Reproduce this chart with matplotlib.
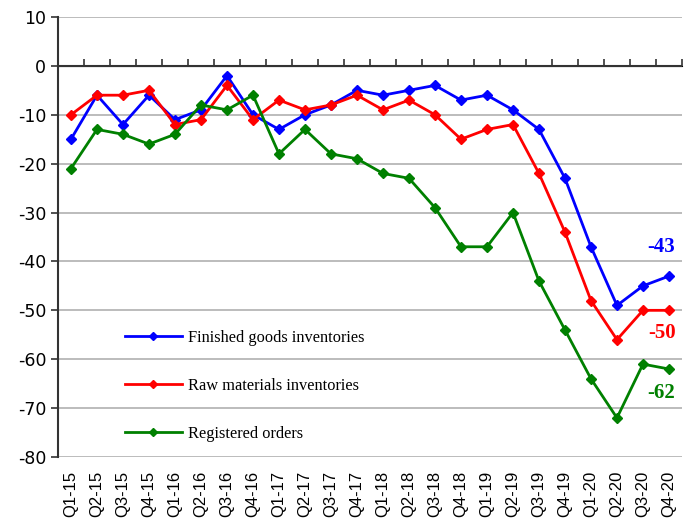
import numpy as np
import matplotlib.pyplot as plt

plt.rcParams['axes.unicode_minus'] = False

quarters = ['Q%d-%d' % (q, y) for y in range(15, 21) for q in range(1, 5)]
finished = [-15, -6, -12, -6, -11, -9, -2, -10, -13, -10, -8, -5,
            -6, -5, -4, -7, -6, -9, -13, -23, -37, -49, -45, -43]
raw = [-10, -6, -6, -5, -12, -11, -4, -11, -7, -9, -8, -6,
       -9, -7, -10, -15, -13, -12, -22, -34, -48, -56, -50, -50]
orders = [-21, -13, -14, -16, -14, -8, -9, -6, -18, -13, -18, -19,
          -22, -23, -29, -37, -37, -30, -44, -54, -64, -72, -61, -62]

names = ['Finished goods inventories', 'Raw materials inventories', 'Registered orders']
colors = ['#0000FF', '#FF0000', '#008000']

fig = plt.figure(figsize=(6.92, 5.30), dpi=100)
ax = fig.add_axes([0.0838, 0.1377, 0.9017, 0.8303])

x = np.arange(len(quarters))
for ys, c, n in zip([finished, raw, orders], colors, names):
    ax.plot(x, ys, color=c, lw=2, marker='D', ms=5, label=n)

# end labels
for ys, c, dy in zip([finished, raw, orders], colors, [6, -4.7, -5]):
    ax.text(x[-1] + 0.25, ys[-1] + dy, str(ys[-1]), color=c, fontsize=15,
            fontweight='bold', family='Liberation Serif', ha='right', va='center')

ax.set_xlim(-0.5, len(quarters) - 0.5)
ax.set_ylim(-80, 10)
ax.set_yticks(np.arange(-80, 11, 10))
ax.yaxis.grid(True, color='#b0b0b0', lw=1.2)
ax.set_axisbelow(True)
ax.tick_params(axis='y', labelsize=12.5, length=5, color='#333333', width=1.2)

ax.set_xticks(x)
ax.set_xticklabels(quarters, rotation=90, family='Liberation Sans', fontsize=12)
ax.tick_params(axis='x', length=0, pad=10)

for s in ['top', 'right', 'bottom']:
    ax.spines[s].set_visible(False)
ax.spines['left'].set_color('#333333')
ax.spines['left'].set_linewidth(1.5)

# category axis at zero
ax.axhline(0, color='#333333', lw=1.5)
sec = ax.secondary_xaxis(80 / 90)
sec.set_xticks(np.arange(-0.5, len(quarters), 1))
sec.set_xticklabels([])
sec.tick_params(direction='out', length=5, width=1.2, color='#333333')
sec.spines['bottom'].set_visible(False)

leg = ax.legend(loc='upper left', bbox_to_anchor=(0.083, 0.322), frameon=False,
                prop={'family': 'Liberation Serif', 'size': 11.8}, labelspacing=1.95,
                handlelength=3.5, handletextpad=0.35)
for h in leg.legend_handles:
    h.set_markersize(4)

fig.savefig('out.png', dpi=100)
